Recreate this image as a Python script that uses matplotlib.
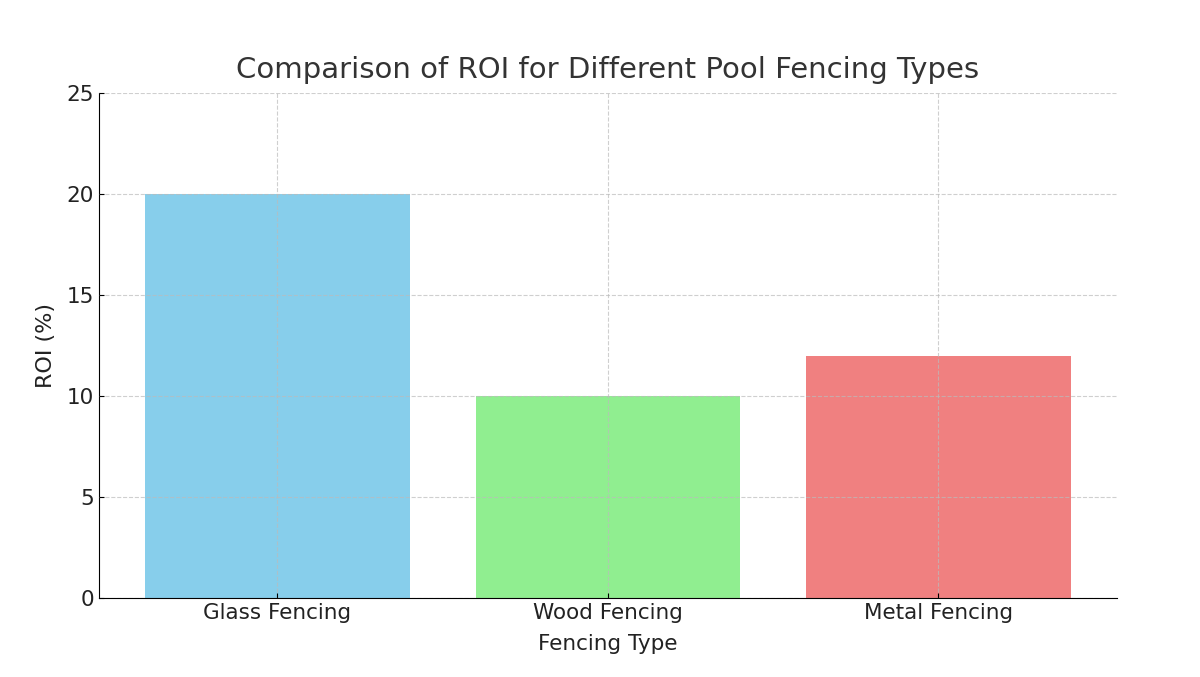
from matplotlib import pyplot as plt

fencing_types = ["Glass Fencing", "Wood Fencing", "Metal Fencing"]
roi_values = [20, 10, 12]
bar_colors = ["skyblue", "lightgreen", "lightcoral"]


def plot_roi():
    """Bar chart of ROI per pool fencing type."""
    fig = plt.figure(figsize=(12, 6.77), dpi=100)
    ax = fig.add_axes([0.0825, 0.1167, 0.8483, 0.7459])

    ax.bar(fencing_types, roi_values, color=bar_colors, width=0.8)
    ax.set_ylim(0, 25)
    ax.set_yticks([0, 5, 10, 15, 20, 25])

    ax.set_title("Comparison of ROI for Different Pool Fencing Types",
                 fontsize=21, color="#333333", pad=11)
    ax.set_xlabel("Fencing Type", fontsize=15.5, color="#222222", labelpad=8)
    ax.set_ylabel("ROI (%)", fontsize=16, color="#222222", labelpad=8)
    ax.tick_params(direction="in", labelsize=15.5, labelcolor="#222222")

    ax.grid(True, linestyle="--", color="#bbbbbb", alpha=0.7, linewidth=0.8)
    ax.set_axisbelow(False)
    for side in ("top", "right"):
        ax.spines[side].set_visible(False)

    fig.savefig("out.png")


if __name__ == "__main__":
    plot_roi()
